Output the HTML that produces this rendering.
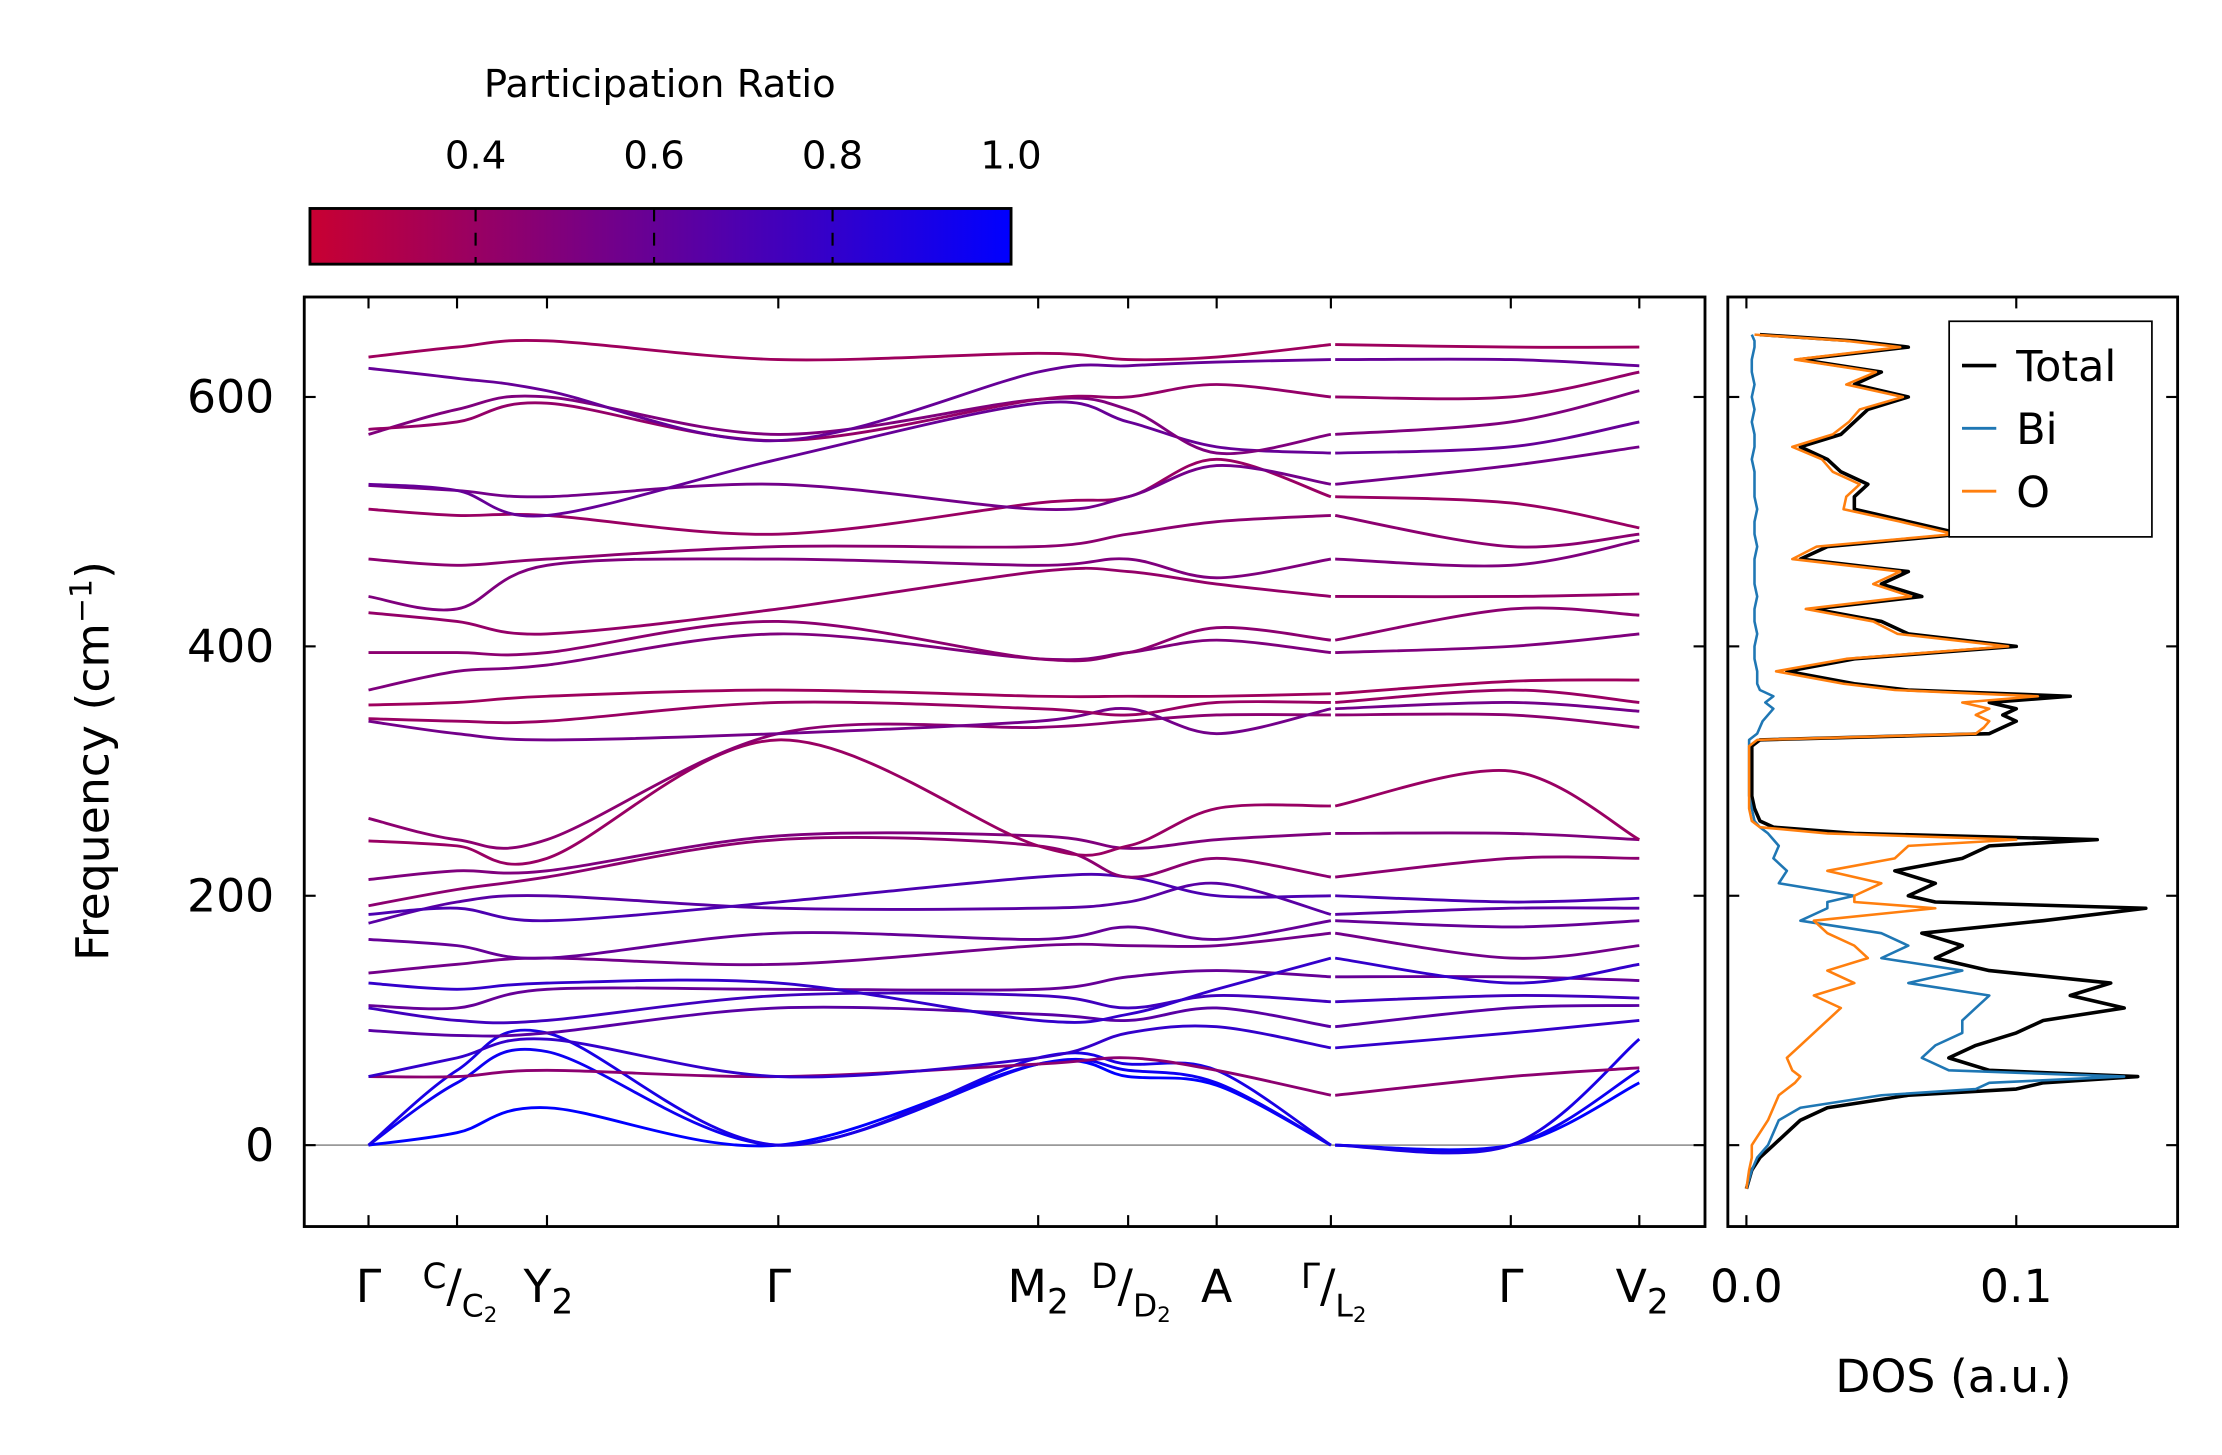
<!DOCTYPE html>
<html><head><meta charset="utf-8"><style>
html,body{margin:0;padding:0;background:#fff;}
svg{display:block;font-family:"DejaVu Sans","Liberation Sans",sans-serif;}
</style></head><body>
<svg id="chart" width="2222" height="1455" viewBox="0 0 1556 1019" xmlns="http://www.w3.org/2000/svg">
<defs>
<linearGradient id="cbgrad" x1="0" x2="1" y1="0" y2="0">
<stop offset="0" stop-color="rgb(200,0,50)"/><stop offset="1" stop-color="rgb(0,0,255)"/>
</linearGradient>
<clipPath id="mainclip"><rect x="213" y="208" width="981" height="651"/></clipPath>
<clipPath id="dosclip"><rect x="1210" y="208" width="315" height="651"/></clipPath>
</defs>
<g id="colorbar">
<text x="462" y="68" font-size="27" text-anchor="middle">Participation Ratio</text>
<rect x="217" y="146" width="491" height="39" fill="url(#cbgrad)" stroke="#000" stroke-width="2"/>
</g>
<g id="main">
<line x1="213" x2="1194" y1="802" y2="802" stroke="#999" stroke-width="1.2"/>
<g id="bands" clip-path="url(#mainclip)"></g>
<rect x="213" y="208" width="981" height="651" fill="none" stroke="#000" stroke-width="2"/>
<g id="mainticks"></g>
<text transform="translate(76,533) rotate(-90)" font-size="32" text-anchor="middle">Frequency (cm<tspan dy="-12" font-size="21">−1</tspan><tspan dy="12">)</tspan></text>
</g>
<g id="dos">
<g id="doslines" clip-path="url(#dosclip)"></g>
<rect x="1210" y="208" width="315" height="651" fill="none" stroke="#000" stroke-width="2"/>
<g id="dosticks"></g>
<text x="1368" y="975" font-size="32" text-anchor="middle">DOS (a.u.)</text>
<g>
<rect x="1365" y="225" width="142" height="151" fill="#fff" stroke="#000" stroke-width="1.2"/>
<line x1="1374" x2="1398" y1="256" y2="256" stroke="#000" stroke-width="2.5"/>
<text x="1412" y="267" font-size="30">Total</text>
<line x1="1374" x2="1398" y1="300" y2="300" stroke="#1f77b4" stroke-width="2"/>
<text x="1412" y="311" font-size="30">Bi</text>
<line x1="1374" x2="1398" y1="344" y2="344" stroke="#ff7f0e" stroke-width="2"/>
<text x="1412" y="355" font-size="30">O</text>
</g>
</g>
</svg>
<script>
// ---- data ----
const kLabels = ["Γ","C/C₂","Y₂","Γ","M₂","D/D₂","A","Γ/L₂","Γ","V₂"];
const kDist = [0, 62, 125, 287, 469, 532, 594, 674, 800, 890];
const yTicks = [0, 200, 400, 600];
const cbTicks = [0.4, 0.6, 0.8, 1.0];
const dosTicks = [0.0, 0.1];
const bandPR = [1.0,0.95,0.9,0.45,0.8,0.65,0.75,0.6,0.8,0.55,0.6,0.65,0.7,0.45,0.5,0.4,0.45,0.55,0.4,0.38,0.5,0.45,0.42,0.5,0.45,0.4,0.55,0.6,0.5,0.42,0.6,0.38];
const b01=[0,10,30,0,65,55,48,0,0,50];
const b02=[0,50,75,0,65,60,50,0,0,60];
const b03=[0,60,90,0,70,65,60,0,0,85];
const b04=[55,55,60,55,65,70,60,40,55,62];
const b05=[55,70,85,55,70,90,95,78,90,100];
const b06=[92,88,90,110,105,100,110,95,110,112];
const b07=[110,100,100,120,120,110,120,115,120,118];
const b08=[112,110,125,125,125,135,140,135,135,132];
const b09=[130,125,130,130,100,105,125,150,130,145];
const b10=[138,145,150,145,160,160,160,170,150,160];
const b11=[165,160,150,170,165,175,165,180,175,180];
const b12=[178,195,200,190,190,195,210,185,190,190];
const b13=[185,190,180,195,215,215,200,200,195,198];
const b14=[192,205,215,245,240,215,230,215,230,230];
const b15=[213,220,220,248,248,238,245,250,250,245];
const b16=[244,240,230,325,240,240,270,272,300,245];
const b17=[262,245,245,330,335,340,345,345,345,335];
const b18=[340,330,325,330,340,350,330,350,355,348];
const b19=[342,340,340,355,350,345,355,355,365,355];
const b20=[353,355,360,365,360,360,360,362,372,373];
const b21=[365,380,385,410,390,395,405,395,400,410];
const b22=[395,395,395,420,390,395,415,405,430,425];
const b23=[427,420,410,430,460,460,450,440,440,442];
const b24=[440,430,465,470,465,470,455,470,465,485];
const b25=[470,465,470,480,480,490,500,505,480,490];
const b26=[510,505,505,490,515,520,550,520,515,495];
const b27=[529,525,520,530,510,520,545,530,545,560];
const b28=[530,525,505,550,595,580,560,555,560,580];
const b29=[570,590,600,570,598,590,555,570,580,605];
const b30=[574,580,595,565,598,600,610,600,600,620];
const b31=[623,615,605,565,620,625,628,630,630,625];
const b32=[632,640,645,630,635,630,632,642,640,640];
const bands=[b01,b02,b03,b04,b05,b06,b07,b08,b09,b10,b11,b12,b13,b14,b15,b16,b17,b18,b19,b20,b21,b22,b23,b24,b25,b26,b27,b28,b29,b30,b31,b32];

const dosFreq=[-35,-20,-10,0,10,20,30,40,45,50,55,60,70,80,90,100,110,120,130,140,150,160,170,180,190,195,200,210,220,230,240,245,250,255,260,270,280,300,320,325,330,335,340,345,350,355,360,365,370,380,390,400,410,420,430,440,450,460,470,480,490,500,510,520,530,540,550,560,570,580,590,600,610,620,630,640,645,650];
const dosTotal=[0,0.002,0.005,0.01,0.015,0.02,0.03,0.06,0.1,0.11,0.145,0.09,0.075,0.085,0.1,0.11,0.14,0.12,0.135,0.09,0.07,0.08,0.065,0.11,0.148,0.07,0.06,0.07,0.055,0.08,0.09,0.13,0.04,0.01,0.005,0.003,0.002,0.002,0.002,0.005,0.09,0.095,0.1,0.095,0.1,0.09,0.12,0.06,0.04,0.015,0.04,0.1,0.06,0.05,0.025,0.065,0.05,0.06,0.02,0.03,0.08,0.06,0.04,0.04,0.045,0.035,0.03,0.02,0.035,0.04,0.045,0.06,0.04,0.05,0.02,0.06,0.04,0.005];
const dosBi=[0,0.002,0.004,0.008,0.01,0.012,0.02,0.05,0.085,0.09,0.14,0.075,0.065,0.07,0.08,0.08,0.085,0.09,0.06,0.08,0.05,0.06,0.05,0.02,0.03,0.03,0.04,0.012,0.015,0.01,0.012,0.01,0.008,0.005,0.003,0.002,0.001,0.001,0.001,0.001,0.004,0.005,0.006,0.008,0.01,0.007,0.01,0.005,0.004,0.004,0.003,0.003,0.004,0.003,0.003,0.004,0.003,0.003,0.003,0.004,0.003,0.003,0.004,0.003,0.003,0.003,0.002,0.003,0.003,0.002,0.003,0.002,0.003,0.002,0.002,0.003,0.003,0.002];
const dosO=[0,0.001,0.002,0.002,0.005,0.008,0.01,0.012,0.015,0.018,0.02,0.017,0.015,0.02,0.025,0.03,0.035,0.025,0.04,0.03,0.045,0.04,0.03,0.025,0.07,0.04,0.04,0.05,0.03,0.055,0.06,0.1,0.03,0.005,0.002,0.001,0.001,0.001,0.001,0.004,0.085,0.088,0.09,0.085,0.09,0.08,0.108,0.055,0.036,0.011,0.037,0.097,0.056,0.047,0.022,0.061,0.047,0.057,0.017,0.026,0.077,0.057,0.036,0.037,0.042,0.032,0.028,0.017,0.032,0.038,0.042,0.058,0.037,0.048,0.018,0.057,0.037,0.003];

// ---- axes ----
const NS="http://www.w3.org/2000/svg";
const yScale = f => 802 - f*0.8733;
const xScale = k => 258 + k;
const dosX = v => 1223 + v*1890;
const cbX = v => 333 + (v-0.4)*625;
function mk(tag, attrs, parent){const e=document.createElementNS(NS,tag);for(const a in attrs)e.setAttribute(a,attrs[a]);parent.appendChild(e);return e;}
function prColor(p){const t=Math.max(0,Math.min(1,(p-0.214)/(1-0.214)));return `rgb(${Math.round(200*(1-t))},0,${Math.round(50+205*t)})`;}
function spline(pts){let d=`M${pts[0][0]},${pts[0][1]}`;for(let i=0;i<pts.length-1;i++){const p0=pts[Math.max(0,i-1)],p1=pts[i],p2=pts[i+1],p3=pts[Math.min(pts.length-1,i+2)];const c1x=p1[0]+(p2[0]-p0[0])/6,c1y=p1[1]+(p2[1]-p0[1])/6,c2x=p2[0]-(p3[0]-p1[0])/6,c2y=p2[1]-(p3[1]-p1[1])/6;d+=` C${c1x},${c1y} ${c2x},${c2y} ${p2[0]},${p2[1]}`;}return d;}

const gb=document.getElementById('bands');
bands.forEach((b,i)=>{
  const seg1=[],seg2=[];
  for(let j=0;j<=7;j++)seg1.push([xScale(kDist[j]),yScale(b[j])]);
  seg2.push([xScale(kDist[7])+3,yScale(b[7])]);
  for(let j=8;j<b.length;j++)seg2.push([xScale(kDist[j]),yScale(b[j])]);
  [seg1,seg2].forEach(s=>{
    const p=mk('path',{d:spline(s),fill:'none',stroke:prColor(bandPR[i]),'stroke-width':2},gb);
    
    
  });
});

const gt=document.getElementById('mainticks');
kDist.forEach((k,i)=>{
  const x=xScale(k);
  mk('line',{x1:x,x2:x,y1:208,y2:216,stroke:'#000','stroke-width':1.5},gt);
  mk('line',{x1:x,x2:x,y1:859,y2:851,stroke:'#000','stroke-width':1.5},gt);
});
const labelsG=mk('g',{},gt);
function subLabel(x,html,name){const t=mk('text',{x:x,y:912,'font-size':32,'text-anchor':'middle'},labelsG);t.innerHTML=html;}
subLabel(258,'Γ','k-label-gamma');
subLabel(545,'Γ','k-label-gamma');
subLabel(1058,'Γ','k-label-gamma');
const S2='<tspan font-size="24" dy="8">2</tspan>';
subLabel(322,'<tspan font-size="24" dy="-10">C</tspan><tspan dy="10">/</tspan><tspan font-size="22" dy="10">C</tspan><tspan font-size="15" dy="4">2</tspan>','k-label-c');
subLabel(384,'Y'+S2,'k-label-y2');
subLabel(727,'M'+S2,'k-label-m2');
subLabel(792,'<tspan font-size="24" dy="-10">D</tspan><tspan dy="10">/</tspan><tspan font-size="22" dy="10">D</tspan><tspan font-size="15" dy="4">2</tspan>','k-label-d');
subLabel(852,'A','k-label-a');
subLabel(934,'<tspan font-size="24" dy="-10">Γ</tspan><tspan dy="10">/</tspan><tspan font-size="22" dy="10">L</tspan><tspan font-size="15" dy="4">2</tspan>','k-label-l2');
subLabel(1150,'V'+S2,'k-label-v2');
yTicks.forEach(v=>{
  const y=yScale(v);
  mk('line',{x1:213,x2:221,y1:y,y2:y,stroke:'#000','stroke-width':1.5},gt);
  mk('line',{x1:1194,x2:1186,y1:y,y2:y,stroke:'#000','stroke-width':1.5},gt);
  const t=mk('text',{x:192,y:y+11,'font-size':32,'text-anchor':'end'},gt);t.textContent=v;
  
  
});

const cb=document.getElementById('colorbar');
cbTicks.forEach(v=>{
  const x=cbX(v);
  if(v<1.0) mk('line',{x1:x,x2:x,y1:146,y2:185,stroke:'#000','stroke-width':1.5,'stroke-dasharray':'9,8'},cb);
  const t=mk('text',{x:x,y:118,'font-size':27,'text-anchor':'middle'},cb);t.textContent=v.toFixed(1);
  
  
});

const gd=document.getElementById('doslines');
function dosPath(vals,color,w,name){
  const d=vals.map((v,i)=>(i?'L':'M')+dosX(v)+','+yScale(dosFreq[i])).join(' ');
  const p=mk('path',{d:d,fill:'none',stroke:color,'stroke-width':w,'stroke-linejoin':'round'},gd);
  
  
}
dosPath(dosTotal,'#000',2.5,'dos-total-line');
dosPath(dosBi,'#1f77b4',1.8,'dos-bi-line');
dosPath(dosO,'#ff7f0e',1.8,'dos-o-line');
const gdt=document.getElementById('dosticks');
yTicks.forEach(v=>{const y=yScale(v);
  mk('line',{x1:1210,x2:1218,y1:y,y2:y,stroke:'#000','stroke-width':1.5},gdt);
  mk('line',{x1:1525,x2:1517,y1:y,y2:y,stroke:'#000','stroke-width':1.5},gdt);});
dosTicks.forEach(v=>{const x=dosX(v);
  mk('line',{x1:x,x2:x,y1:208,y2:216,stroke:'#000','stroke-width':1.5},gdt);
  mk('line',{x1:x,x2:x,y1:859,y2:851,stroke:'#000','stroke-width':1.5},gdt);
  const t=mk('text',{x:x,y:912,'font-size':32,'text-anchor':'middle'},gdt);t.textContent=v.toFixed(1);
  
  });
</script>
</body></html>
